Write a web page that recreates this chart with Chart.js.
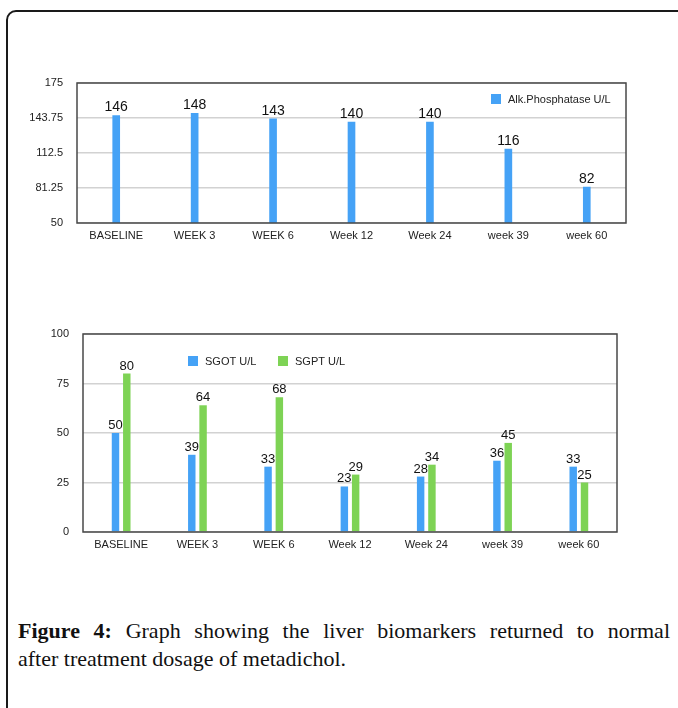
<!DOCTYPE html>
<html>
<head>
<meta charset="utf-8">
<script src="https://cdn.jsdelivr.net/npm/chart.js@4.4.0/dist/chart.umd.min.js"></script>
<style>
  body { margin: 0; width: 678px; height: 708px; overflow: hidden; background: #fff; position: relative; }
  #frame { position: absolute; left: 6px; top: 10px; width: 700px; height: 730px; border: 2px solid #1a1a1a; border-radius: 10px; box-sizing: border-box; }
  .box { position: absolute; left: 0; }
  #c1 { top: 70px; }
  #c2 { top: 320px; }
  #caption { position: absolute; left: 18px; width: 652px; top: 617px; font-family: "Liberation Serif", serif; font-size: 22px; line-height: 28px; color: #111; margin: 0; }
  #caption .l1 { display: block; text-align: justify; text-align-last: justify; }
  #caption b { font-weight: bold; }
</style>
</head>
<body>
<div id="frame"></div>
<canvas id="c1" class="box" width="678" height="180"></canvas>
<canvas id="c2" class="box" width="678" height="240"></canvas>
<p id="caption"><span class="l1"><b>Figure 4:</b> Graph showing the liver biomarkers returned to normal</span>after treatment dosage of metadichol.</p>

<script>
// --- данные ---
const weeks = ['BASELINE', 'WEEK 3', 'WEEK 6', 'Week 12', 'Week 24', 'week 39', 'week 60'];

const alkLabel = 'Alk.Phosphatase U/L';
const alkValues = [146, 148, 143, 140, 140, 116, 82];
const alkTicks = [50, 81.25, 112.5, 143.75, 175];

const sgotLabel = 'SGOT U/L';
const sgotValues = [50, 39, 33, 23, 28, 36, 33];
const sgptLabel = 'SGPT U/L';
const sgptValues = [80, 64, 68, 29, 34, 45, 25];
const enzTicks = [0, 25, 50, 75, 100];

const BLUE = '#45a2f6';
const GREEN = '#7ed355';
const FONT = '"Liberation Sans", Arial, sans-serif';

// --- рамка графика, подписи значений, легенда ---
const extras = {
  id: 'extras',
  afterDatasetsDraw(chart, args, opts) {
    const { ctx, chartArea: a } = chart;
    ctx.save();
    ctx.strokeStyle = '#484848';
    ctx.lineWidth = 1.5;
    ctx.strokeRect(a.left, a.top, a.right - a.left, a.bottom - a.top);

    // значения над столбиками
    ctx.fillStyle = '#111';
    ctx.font = opts.valueSize + 'px ' + FONT;
    ctx.textAlign = 'center';
    ctx.textBaseline = 'alphabetic';
    chart.data.datasets.forEach((ds, i) => {
      chart.getDatasetMeta(i).data.forEach((bar, j) => {
        ctx.fillText(String(ds.data[j]), bar.x, bar.y - 4);
      });
    });

    // легенда внутри области графика
    ctx.font = '11px ' + FONT;
    ctx.textAlign = 'left';
    ctx.textBaseline = 'middle';
    chart.data.datasets.forEach((ds, i) => {
      const x = a.left + opts.legendX[i];
      const y = a.top + opts.legendY;
      ctx.fillStyle = ds.backgroundColor;
      ctx.fillRect(x, y, 10, 10);
      ctx.fillStyle = '#222';
      ctx.fillText(ds.label, x + 17, y + 5.5);
    });
    ctx.restore();
  }
};

function makeScales(ticks, yWidth) {
  return {
    x: {
      grid: { display: false, drawTicks: false },
      border: { display: false },
      ticks: { color: '#222', font: { size: 11, family: FONT }, padding: 6, maxRotation: 0 },
      afterFit(s) { s.height = 22; }
    },
    y: {
      min: ticks[0],
      max: ticks[ticks.length - 1],
      afterBuildTicks(s) { s.ticks = ticks.map(v => ({ value: v })); },
      grid: { color: '#d2d2d2', lineWidth: 1.5, drawTicks: false },
      border: { display: false },
      ticks: { color: '#222', font: { size: 11, family: FONT }, padding: 14, callback: v => String(v) },
      afterFit(s) { s.width = yWidth; s.paddingTop = 0; s.paddingBottom = 0; }
    }
  };
}

// --- Alk.Phosphatase ---
new Chart(document.getElementById('c1'), {
  type: 'bar',
  data: {
    labels: weeks,
    datasets: [{ label: alkLabel, data: alkValues, backgroundColor: BLUE, barThickness: 7 }]
  },
  options: {
    responsive: false,
    animation: false,
    layout: { padding: { top: 13, right: 52, bottom: 5, left: 0 } },
    scales: makeScales(alkTicks, 77),
    plugins: {
      legend: { display: false },
      tooltip: { enabled: false },
      extras: { valueSize: 14, legendX: [414], legendY: 11 }
    }
  },
  plugins: [extras]
});

// --- SGOT / SGPT ---
new Chart(document.getElementById('c2'), {
  type: 'bar',
  data: {
    labels: weeks,
    datasets: [
      { label: sgotLabel, data: sgotValues, backgroundColor: BLUE },
      { label: sgptLabel, data: sgptValues, backgroundColor: GREEN }
    ]
  },
  options: {
    responsive: false,
    animation: false,
    datasets: { bar: { categoryPercentage: 0.296, barPercentage: 0.66 } },
    layout: { padding: { top: 14, right: 61, bottom: 6, left: 0 } },
    scales: makeScales(enzTicks, 83),
    plugins: {
      legend: { display: false },
      tooltip: { enabled: false },
      extras: { valueSize: 13, legendX: [105, 195], legendY: 22 }
    }
  },
  plugins: [extras]
});
</script>
</body>
</html>
